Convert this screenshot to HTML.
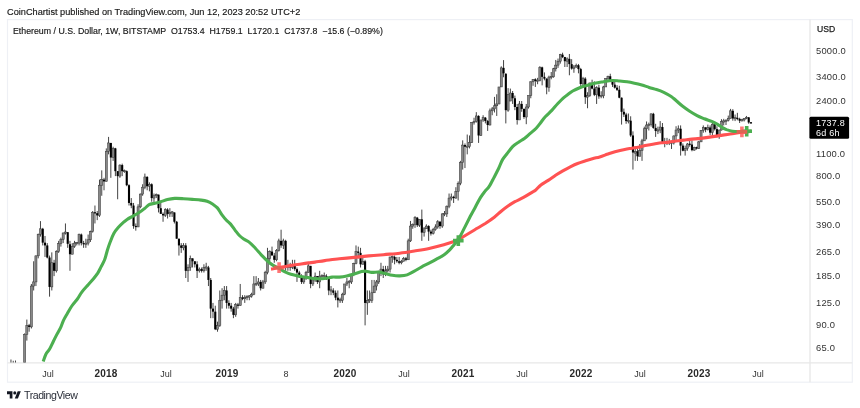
<!DOCTYPE html>
<html><head><meta charset="utf-8"><style>
html,body{margin:0;padding:0;background:#fff;width:860px;height:408px;overflow:hidden}
body{position:relative;font-family:"Liberation Sans",sans-serif;color:#2a2e39}
div{will-change:transform}
.hdr{position:absolute;left:7px;top:5.9px;font-size:9.2px;line-height:13px;color:#151515;white-space:nowrap;-webkit-text-stroke:0.15px #151515}
.tick{position:absolute;left:13px;top:24.8px;font-size:8.79px;line-height:13px;color:#151515;white-space:nowrap;-webkit-text-stroke:0.15px #151515}
.pl{position:absolute;left:815.5px;font-size:9.4px;letter-spacing:0.2px;line-height:13px;color:#333;white-space:nowrap}
.tl{position:absolute;top:368.2px;width:60px;text-align:center;font-size:9px;line-height:13px;color:#333}
.tl.b{font-weight:bold;color:#2a2a2a;letter-spacing:0.15px;font-size:10px;margin-top:-1.2px}
.usd{position:absolute;left:816.6px;top:23.3px;font-size:8.6px;line-height:13px;color:#222;-webkit-text-stroke:0.25px #222}
.lbl{position:absolute;left:816px;font-size:9px;letter-spacing:0.25px;line-height:11px;color:#fff;white-space:nowrap}
.tvt{position:absolute;left:23.8px;top:388.2px;font-size:10.6px;letter-spacing:-0.45px;line-height:14px;color:#2a2e39;white-space:nowrap}
</style></head><body>
<svg width="860" height="408" viewBox="0 0 860 408" style="position:absolute;left:0;top:0">
<defs><clipPath id="pane"><rect x="8" y="20" width="801" height="342.5"/></clipPath></defs>
<rect x="7.5" y="19.6" width="844.8" height="362.6" fill="none" stroke="#eef0f5" stroke-width="1.2"/>
<path d="M810 19.6V382.2M7.5 362.9H852.3" fill="none" stroke="#e8e8e8" stroke-width="1.4"/>
<g clip-path="url(#pane)">
<path d="M10.96 359.51V407.62M13.23 360.78V384.27M15.50 360.52V371.22M17.77 365.53V377.44M20.04 365.53V377.44M22.31 365.53V371.22M24.58 333.41V368.31M26.85 319.55V340.61M29.12 323.87V331.73M31.39 283.96V328.47M33.66 261.27V290.47M35.93 255.57V286.06M38.20 233.56V258.36M40.47 221.11V236.60M42.74 227.87V245.43M45.01 235.98V256.95M47.28 243.11V258.36M49.55 255.57V296.66M51.82 252.37V290.47M54.09 259.80V276.14M56.36 250.31V272.54M58.63 240.87V252.89M60.90 237.64V246.62M63.17 232.58V243.11M65.44 223.46V234.56M67.71 232.19V247.83M69.98 240.87V270.81M72.25 243.11V254.22M74.52 240.87V247.83M76.79 241.98V245.43M79.06 233.56V245.43M81.33 233.56V245.43M83.60 240.87V247.83M85.87 238.70V247.83M88.14 234.56V245.43M90.41 230.66V241.98M92.68 211.00V232.58M94.95 205.53V223.46M97.22 211.00V220.12M99.49 179.61V216.95M101.76 170.37V195.76M104.03 177.83V190.29M106.30 148.40V181.43M108.57 136.90V154.35M110.84 142.93V177.83M113.11 146.71V160.86M115.38 147.83V176.10M117.65 171.16V199.26M119.92 164.36V177.83M122.19 163.65V176.10M124.46 169.59V172.77M126.73 170.37V186.21M129.00 184.26V205.53M131.27 198.07V208.21M133.54 202.95V228.78M135.81 223.46V230.66M138.08 204.23V226.96M140.35 193.52V208.21M142.62 184.26V195.76M144.89 173.59V189.24M147.16 176.10V190.29M149.43 182.36V191.35M151.70 183.30V201.70M153.97 193.52V202.95M156.24 193.52V198.07M158.51 194.63V212.44M160.78 202.95V211.00M163.05 212.44V221.77M165.32 208.21V216.95M167.59 208.21V218.52M169.86 208.21V216.95M172.13 211.00V216.95M174.40 212.44V223.46M176.67 220.94V238.70M178.94 238.70V255.57M181.21 243.11V252.89M183.48 243.11V250.31M185.75 243.11V278.01M188.02 264.30V281.92M190.29 255.57V270.81M192.56 258.36V267.48M194.83 261.27V267.48M197.10 261.27V278.01M199.37 267.48V272.54M201.64 267.48V272.54M203.91 264.30V272.54M206.18 262.77V270.81M208.45 265.87V286.06M210.72 278.01V318.17M212.99 302.92V318.17M215.26 305.71V330.08M217.53 321.67V331.73M219.80 290.47V326.90M222.07 288.23V308.62M224.34 286.06V300.24M226.61 286.06V308.62M228.88 300.24V308.62M231.15 302.92V311.66M233.42 306.86V318.17M235.69 302.92V316.82M237.96 302.92V308.62M240.23 283.96V305.71M242.50 295.18V300.24M244.77 295.18V302.92M247.04 295.18V300.24M249.31 295.18V300.24M251.58 292.78V297.67M253.85 276.14V295.18M256.12 276.14V286.06M258.39 278.01V286.06M260.66 279.94V290.47M262.93 279.94V288.23M265.20 270.81V283.96M267.47 247.83V274.32M269.74 250.31V261.27M272.01 246.62V254.22M274.28 252.89V262.77M276.55 249.06V261.27M278.82 238.70V251.59M281.09 229.71V247.83M283.36 238.70V249.06M285.63 239.78V270.81M287.90 259.80V270.81M290.17 262.77V270.81M292.44 259.80V269.13M294.71 259.80V270.81M296.98 267.48V281.92M299.25 270.81V278.01M301.52 274.32V283.96M303.79 276.14V283.96M306.06 270.81V279.94M308.33 262.77V272.54M310.60 265.87V288.23M312.87 278.01V286.06M315.14 272.54V281.92M317.41 276.14V283.96M319.68 270.81V288.23M321.95 274.32V279.94M324.22 272.54V278.01M326.49 274.32V279.94M328.76 278.01V295.18M331.03 286.06V295.18M333.30 288.23V295.18M335.57 290.47V300.24M337.84 290.47V307.44M340.11 297.67V302.92M342.38 292.78V302.92M344.65 283.96V295.18M346.92 278.01V286.06M349.19 279.94V288.23M351.46 274.32V283.96M353.73 262.77V276.14M356.00 245.43V264.30M358.27 246.62V258.36M360.54 247.83V267.48M362.81 255.57V264.30M365.08 259.80V325.37M367.35 290.47V314.84M369.62 290.47V302.92M371.89 279.94V302.92M374.16 279.94V292.78M376.43 279.94V290.47M378.70 270.81V283.96M380.97 262.77V276.14M383.24 265.87V278.01M385.51 265.87V276.14M387.78 265.87V272.54M390.05 256.95V272.54M392.32 255.57V262.77M394.59 255.57V264.30M396.86 256.95V262.77M399.13 256.95V264.30M401.40 259.80V264.30M403.67 256.95V261.27M405.94 256.95V261.27M408.21 238.70V259.80M410.48 220.94V241.98M412.75 223.46V228.78M415.02 216.17V227.87M417.29 216.95V226.96M419.56 219.32V226.96M421.83 209.59V240.87M424.10 226.96V236.60M426.37 224.32V228.78M428.64 225.19V240.87M430.91 229.71V235.57M433.18 227.87V234.56M435.45 224.32V230.66M437.72 220.12V228.78M439.99 220.94V228.78M442.26 213.17V227.87M444.53 211.00V216.17M446.80 205.53V216.95M449.07 193.52V208.21M451.34 193.52V200.47M453.61 195.76V202.95M455.88 187.21V198.66M458.15 181.43V200.47M460.42 160.86V185.22M462.69 140.35V169.59M464.96 143.46V168.06M467.23 134.54V154.35M469.50 135.47V148.40M471.77 122.23V142.93M474.04 117.73V124.60M476.31 112.15V122.62M478.58 115.23V142.93M480.85 126.23V135.94M483.12 115.23V121.85M485.39 117.01V123.41M487.66 119.94V130.92M489.93 108.56V125.41M492.20 106.99V115.23M494.47 96.90V112.48M496.74 94.27V115.94M499.01 88.12V104.25M501.28 66.32V86.95M503.55 60.10V77.25M505.82 73.34V123.41M508.09 88.12V111.81M510.36 88.59V101.04M512.63 91.00V103.95M514.90 95.58V110.17M517.17 103.95V124.60M519.44 101.04V118.83M521.71 101.04V111.81M523.98 108.56V118.83M526.25 103.95V124.20M528.52 95.58V108.56M530.79 81.39V98.26M533.06 79.29V85.80M535.33 78.26V86.95M537.60 77.85V84.22M539.87 66.15V81.39M542.14 66.66V85.35M544.41 72.40V80.33M546.68 78.26V94.27M548.95 75.66V91.74M551.22 72.03V79.29M553.49 67.87V77.65M555.76 59.94V71.47M558.03 58.56V67.87M560.30 53.83V63.63M562.57 52.70V58.10M564.84 56.89V67.00M567.11 57.34V67.00M569.38 53.97V75.27M571.65 59.17V69.65M573.92 64.96V72.78M576.19 63.63V67.87M578.46 63.96V73.34M580.73 67.87V87.41M583.00 76.85V87.41M585.27 77.25V103.95M587.54 92.24V108.24M589.81 82.90V96.90M592.08 79.70V89.30M594.35 81.39V96.10M596.62 86.26V103.95M598.89 84.67V98.80M601.16 91.25V98.26M603.43 85.80V98.26M605.70 78.46V86.95M607.97 75.66V80.54M610.24 73.72V82.03M612.51 80.12V86.95M614.78 81.60V88.59M617.05 85.12V91.00M619.32 85.80V98.26M621.59 97.44V124.60M623.86 108.56V117.01M626.13 112.82V123.81M628.40 113.50V123.41M630.67 116.29V136.90M632.94 131.36V169.59M635.21 146.16V160.86M637.48 148.40V160.86M639.75 143.99V156.23M642.02 138.85V160.86M644.29 126.64V140.86M646.56 121.46V139.35M648.83 122.62V130.48M651.10 113.50V126.64M653.37 112.82V128.75M655.64 123.81V136.90M657.91 126.64V134.07M660.18 121.08V133.16M662.45 123.02V142.93M664.72 137.87V147.27M666.99 137.87V145.07M669.26 138.85V145.07M671.53 140.86V148.97M673.80 135.47V144.53M676.07 126.23V140.86M678.34 125.41V133.16M680.61 125.41V155.60M682.88 143.46V151.31M685.15 145.61V155.60M687.42 142.93V150.72M689.69 140.35V146.71M691.96 140.35V151.31M694.23 146.71V150.72M696.50 146.71V149.55M698.77 140.86V148.97M701.04 130.04V141.89M703.31 125.41V132.70M705.58 127.06V132.25M707.85 124.60V130.48M710.12 125.41V135.00M712.39 123.02V135.00M714.66 123.81V130.48M716.93 126.23V137.38M719.20 129.61V138.85M721.47 119.20V130.48M723.74 118.83V125.41M726.01 119.20V125.01M728.28 115.58V121.46M730.55 108.88V118.46M732.82 109.20V120.70M735.09 114.53V121.08M737.36 112.82V120.32M739.63 117.73V123.02M741.90 118.83V121.46M744.17 118.09V121.46M746.44 115.94V119.20M748.71 117.01V123.81M750.98 122.27V123.80" stroke="#444" stroke-width="1" fill="none"/>
<g fill="#888" stroke="#333" stroke-width="0.5"><rect x="9.91" y="375.83" width="2.10" height="29.31"/><rect x="12.18" y="364.17" width="2.10" height="11.66"/><rect x="18.99" y="368.31" width="2.10" height="5.94"/><rect x="21.26" y="366.91" width="2.10" height="1.41"/><rect x="23.53" y="334.27" width="2.10" height="32.63"/><rect x="25.80" y="325.37" width="2.10" height="8.91"/><rect x="30.34" y="286.06" width="2.10" height="40.84"/><rect x="32.61" y="281.92" width="2.10" height="4.14"/><rect x="34.88" y="255.84" width="2.10" height="26.07"/><rect x="37.15" y="234.36" width="2.10" height="21.48"/><rect x="39.42" y="228.78" width="2.10" height="5.58"/><rect x="50.77" y="262.77" width="2.10" height="24.15"/><rect x="55.31" y="251.59" width="2.10" height="19.23"/><rect x="57.58" y="243.57" width="2.10" height="8.02"/><rect x="59.85" y="239.56" width="2.10" height="4.01"/><rect x="62.12" y="232.97" width="2.10" height="6.59"/><rect x="64.39" y="231.98" width="2.10" height="1.20"/><rect x="71.20" y="246.62" width="2.10" height="7.60"/><rect x="73.47" y="243.11" width="2.10" height="3.50"/><rect x="75.74" y="242.51" width="2.10" height="1.20"/><rect x="78.01" y="234.56" width="2.10" height="8.55"/><rect x="84.82" y="243.09" width="2.10" height="1.20"/><rect x="87.09" y="239.78" width="2.10" height="3.33"/><rect x="89.36" y="231.61" width="2.10" height="8.17"/><rect x="91.63" y="212.44" width="2.10" height="19.17"/><rect x="98.44" y="185.22" width="2.10" height="30.19"/><rect x="100.71" y="179.61" width="2.10" height="5.62"/><rect x="105.25" y="151.31" width="2.10" height="30.12"/><rect x="107.52" y="142.93" width="2.10" height="8.38"/><rect x="112.06" y="148.40" width="2.10" height="9.12"/><rect x="118.87" y="165.08" width="2.10" height="11.02"/><rect x="123.41" y="170.56" width="2.10" height="1.20"/><rect x="137.03" y="206.86" width="2.10" height="20.10"/><rect x="139.30" y="194.07" width="2.10" height="12.79"/><rect x="141.57" y="187.21" width="2.10" height="6.86"/><rect x="143.84" y="176.96" width="2.10" height="10.24"/><rect x="148.38" y="184.26" width="2.10" height="1.95"/><rect x="152.92" y="195.76" width="2.10" height="2.32"/><rect x="155.19" y="194.59" width="2.10" height="1.20"/><rect x="164.27" y="209.59" width="2.10" height="5.82"/><rect x="168.81" y="212.44" width="2.10" height="1.47"/><rect x="171.08" y="211.84" width="2.10" height="1.20"/><rect x="182.43" y="245.43" width="2.10" height="2.40"/><rect x="186.97" y="267.48" width="2.10" height="3.33"/><rect x="189.24" y="258.36" width="2.10" height="9.12"/><rect x="198.32" y="269.13" width="2.10" height="1.69"/><rect x="202.86" y="267.48" width="2.10" height="3.33"/><rect x="205.13" y="266.88" width="2.10" height="1.20"/><rect x="216.48" y="325.37" width="2.10" height="3.91"/><rect x="218.75" y="300.24" width="2.10" height="25.12"/><rect x="221.02" y="295.18" width="2.10" height="5.06"/><rect x="223.29" y="290.47" width="2.10" height="4.71"/><rect x="234.64" y="304.58" width="2.10" height="10.25"/><rect x="239.18" y="297.67" width="2.10" height="8.05"/><rect x="243.72" y="297.58" width="2.10" height="1.20"/><rect x="245.99" y="296.56" width="2.10" height="1.20"/><rect x="248.26" y="295.81" width="2.10" height="1.20"/><rect x="250.53" y="294.21" width="2.10" height="1.95"/><rect x="252.80" y="283.96" width="2.10" height="10.26"/><rect x="255.07" y="283.36" width="2.10" height="1.20"/><rect x="257.34" y="281.92" width="2.10" height="2.04"/><rect x="261.88" y="281.92" width="2.10" height="6.31"/><rect x="264.15" y="272.54" width="2.10" height="9.37"/><rect x="266.42" y="258.36" width="2.10" height="14.19"/><rect x="268.69" y="251.59" width="2.10" height="6.77"/><rect x="275.50" y="250.31" width="2.10" height="9.49"/><rect x="277.77" y="240.87" width="2.10" height="9.44"/><rect x="282.31" y="240.87" width="2.10" height="4.56"/><rect x="286.85" y="265.87" width="2.10" height="1.61"/><rect x="291.39" y="264.30" width="2.10" height="3.18"/><rect x="302.74" y="278.01" width="2.10" height="3.91"/><rect x="305.01" y="272.54" width="2.10" height="5.47"/><rect x="307.28" y="265.87" width="2.10" height="6.67"/><rect x="311.82" y="279.94" width="2.10" height="4.02"/><rect x="314.09" y="276.14" width="2.10" height="3.80"/><rect x="318.63" y="276.14" width="2.10" height="5.78"/><rect x="320.90" y="275.54" width="2.10" height="1.20"/><rect x="323.17" y="275.54" width="2.10" height="1.20"/><rect x="329.98" y="289.87" width="2.10" height="1.20"/><rect x="339.06" y="299.64" width="2.10" height="1.20"/><rect x="341.33" y="294.21" width="2.10" height="6.03"/><rect x="343.60" y="283.96" width="2.10" height="10.26"/><rect x="345.87" y="281.92" width="2.10" height="2.04"/><rect x="348.14" y="281.32" width="2.10" height="1.20"/><rect x="350.41" y="274.32" width="2.10" height="7.60"/><rect x="352.68" y="263.38" width="2.10" height="10.94"/><rect x="354.95" y="251.59" width="2.10" height="11.79"/><rect x="361.76" y="261.27" width="2.10" height="3.04"/><rect x="366.30" y="300.24" width="2.10" height="2.68"/><rect x="368.57" y="299.64" width="2.10" height="1.20"/><rect x="370.84" y="292.78" width="2.10" height="7.46"/><rect x="373.11" y="286.06" width="2.10" height="6.73"/><rect x="375.38" y="281.92" width="2.10" height="4.14"/><rect x="377.65" y="272.54" width="2.10" height="9.37"/><rect x="379.92" y="269.13" width="2.10" height="3.42"/><rect x="384.46" y="270.81" width="2.10" height="3.50"/><rect x="386.73" y="269.13" width="2.10" height="1.69"/><rect x="389.00" y="256.95" width="2.10" height="12.18"/><rect x="391.27" y="256.35" width="2.10" height="1.20"/><rect x="400.35" y="261.27" width="2.10" height="1.50"/><rect x="402.62" y="258.36" width="2.10" height="2.91"/><rect x="407.16" y="240.87" width="2.10" height="18.92"/><rect x="409.43" y="226.07" width="2.10" height="14.80"/><rect x="411.70" y="224.32" width="2.10" height="1.75"/><rect x="413.97" y="217.73" width="2.10" height="6.59"/><rect x="418.51" y="219.32" width="2.10" height="5.87"/><rect x="423.05" y="228.78" width="2.10" height="3.80"/><rect x="425.32" y="226.07" width="2.10" height="2.72"/><rect x="432.13" y="229.71" width="2.10" height="3.85"/><rect x="434.40" y="226.96" width="2.10" height="2.75"/><rect x="436.67" y="221.77" width="2.10" height="5.19"/><rect x="441.21" y="213.91" width="2.10" height="12.16"/><rect x="443.48" y="213.31" width="2.10" height="1.20"/><rect x="445.75" y="206.19" width="2.10" height="7.72"/><rect x="448.02" y="198.07" width="2.10" height="8.12"/><rect x="450.29" y="196.89" width="2.10" height="1.20"/><rect x="454.83" y="191.35" width="2.10" height="6.73"/><rect x="457.10" y="183.30" width="2.10" height="8.05"/><rect x="459.37" y="162.59" width="2.10" height="20.71"/><rect x="461.64" y="145.07" width="2.10" height="17.52"/><rect x="466.18" y="146.11" width="2.10" height="1.20"/><rect x="468.45" y="142.41" width="2.10" height="4.31"/><rect x="470.72" y="122.62" width="2.10" height="19.78"/><rect x="472.99" y="121.44" width="2.10" height="1.20"/><rect x="475.26" y="115.94" width="2.10" height="5.53"/><rect x="479.80" y="119.94" width="2.10" height="15.53"/><rect x="482.07" y="117.73" width="2.10" height="2.22"/><rect x="488.88" y="110.82" width="2.10" height="14.19"/><rect x="491.15" y="108.88" width="2.10" height="1.94"/><rect x="493.42" y="105.76" width="2.10" height="3.12"/><rect x="495.69" y="103.95" width="2.10" height="1.81"/><rect x="497.96" y="86.95" width="2.10" height="17.00"/><rect x="500.23" y="67.87" width="2.10" height="19.07"/><rect x="507.04" y="94.27" width="2.10" height="15.89"/><rect x="509.31" y="93.00" width="2.10" height="8.05"/><rect x="518.39" y="103.95" width="2.10" height="15.99"/><rect x="525.20" y="106.99" width="2.10" height="10.02"/><rect x="527.47" y="95.58" width="2.10" height="11.41"/><rect x="529.74" y="81.82" width="2.10" height="13.76"/><rect x="532.01" y="79.29" width="2.10" height="2.53"/><rect x="536.55" y="80.15" width="2.10" height="1.20"/><rect x="538.82" y="67.35" width="2.10" height="13.19"/><rect x="547.90" y="77.05" width="2.10" height="10.36"/><rect x="550.17" y="76.35" width="2.10" height="1.20"/><rect x="552.44" y="68.76" width="2.10" height="8.09"/><rect x="554.71" y="65.13" width="2.10" height="3.63"/><rect x="556.98" y="61.20" width="2.10" height="3.92"/><rect x="559.25" y="54.69" width="2.10" height="6.51"/><rect x="566.06" y="58.86" width="2.10" height="2.34"/><rect x="572.87" y="67.00" width="2.10" height="1.57"/><rect x="575.14" y="65.30" width="2.10" height="1.71"/><rect x="581.95" y="78.67" width="2.10" height="5.33"/><rect x="586.49" y="95.58" width="2.10" height="1.60"/><rect x="588.76" y="82.90" width="2.10" height="12.67"/><rect x="595.57" y="87.65" width="2.10" height="7.15"/><rect x="600.11" y="95.50" width="2.10" height="1.20"/><rect x="602.38" y="86.95" width="2.10" height="8.89"/><rect x="604.65" y="78.46" width="2.10" height="8.48"/><rect x="606.92" y="76.25" width="2.10" height="2.21"/><rect x="627.35" y="120.29" width="2.10" height="1.20"/><rect x="634.16" y="151.31" width="2.10" height="1.81"/><rect x="638.70" y="150.72" width="2.10" height="5.52"/><rect x="640.97" y="140.86" width="2.10" height="9.86"/><rect x="643.24" y="128.75" width="2.10" height="12.12"/><rect x="645.51" y="125.01" width="2.10" height="3.74"/><rect x="647.78" y="124.21" width="2.10" height="1.20"/><rect x="650.05" y="113.84" width="2.10" height="10.76"/><rect x="656.86" y="129.88" width="2.10" height="1.20"/><rect x="659.13" y="127.06" width="2.10" height="2.98"/><rect x="665.94" y="141.55" width="2.10" height="1.20"/><rect x="670.48" y="142.33" width="2.10" height="1.20"/><rect x="672.75" y="135.94" width="2.10" height="6.99"/><rect x="675.02" y="130.04" width="2.10" height="5.91"/><rect x="677.29" y="128.75" width="2.10" height="1.29"/><rect x="684.10" y="148.40" width="2.10" height="2.32"/><rect x="686.37" y="143.99" width="2.10" height="4.41"/><rect x="693.18" y="147.27" width="2.10" height="2.86"/><rect x="697.72" y="141.89" width="2.10" height="6.51"/><rect x="699.99" y="130.48" width="2.10" height="11.41"/><rect x="702.26" y="127.48" width="2.10" height="3.00"/><rect x="706.80" y="127.48" width="2.10" height="2.13"/><rect x="711.34" y="124.20" width="2.10" height="8.50"/><rect x="718.15" y="130.04" width="2.10" height="6.38"/><rect x="720.42" y="121.46" width="2.10" height="8.58"/><rect x="722.69" y="120.86" width="2.10" height="1.20"/><rect x="724.96" y="120.29" width="2.10" height="1.20"/><rect x="727.23" y="118.46" width="2.10" height="1.86"/><rect x="729.50" y="110.82" width="2.10" height="7.64"/><rect x="734.04" y="117.68" width="2.10" height="1.20"/><rect x="740.85" y="119.72" width="2.10" height="1.20"/><rect x="743.12" y="118.46" width="2.10" height="1.49"/><rect x="745.39" y="117.31" width="2.10" height="1.20"/></g>
<g fill="#000"><rect x="14.45" y="364.17" width="2.10" height="2.73"/><rect x="16.72" y="366.91" width="2.10" height="7.35"/><rect x="28.07" y="325.37" width="2.10" height="1.54"/><rect x="41.69" y="228.78" width="2.10" height="13.87"/><rect x="43.96" y="242.66" width="2.10" height="2.77"/><rect x="46.23" y="245.43" width="2.10" height="12.08"/><rect x="48.50" y="257.51" width="2.10" height="29.41"/><rect x="53.04" y="262.77" width="2.10" height="8.05"/><rect x="66.66" y="232.19" width="2.10" height="11.61"/><rect x="68.93" y="244.26" width="2.10" height="9.96"/><rect x="80.28" y="234.56" width="2.10" height="8.55"/><rect x="82.55" y="243.09" width="2.10" height="1.20"/><rect x="93.90" y="212.21" width="2.10" height="1.20"/><rect x="96.17" y="213.17" width="2.10" height="2.24"/><rect x="102.98" y="179.61" width="2.10" height="1.82"/><rect x="109.79" y="142.93" width="2.10" height="14.59"/><rect x="114.33" y="148.40" width="2.10" height="22.76"/><rect x="116.60" y="171.16" width="2.10" height="4.94"/><rect x="121.14" y="165.08" width="2.10" height="6.08"/><rect x="125.68" y="171.16" width="2.10" height="14.06"/><rect x="127.95" y="185.22" width="2.10" height="17.73"/><rect x="130.22" y="202.95" width="2.10" height="2.58"/><rect x="132.49" y="205.53" width="2.10" height="20.54"/><rect x="134.76" y="225.92" width="2.10" height="1.20"/><rect x="146.11" y="176.96" width="2.10" height="9.25"/><rect x="150.65" y="184.26" width="2.10" height="13.82"/><rect x="157.46" y="194.63" width="2.10" height="13.59"/><rect x="159.73" y="208.21" width="2.10" height="5.70"/><rect x="162.00" y="213.91" width="2.10" height="1.50"/><rect x="166.54" y="209.59" width="2.10" height="4.32"/><rect x="173.35" y="212.44" width="2.10" height="9.33"/><rect x="175.62" y="221.77" width="2.10" height="16.93"/><rect x="177.89" y="238.70" width="2.10" height="6.73"/><rect x="180.16" y="245.43" width="2.10" height="2.40"/><rect x="184.70" y="245.43" width="2.10" height="25.39"/><rect x="191.51" y="258.36" width="2.10" height="2.91"/><rect x="193.78" y="261.27" width="2.10" height="3.04"/><rect x="196.05" y="264.30" width="2.10" height="6.51"/><rect x="200.59" y="269.13" width="2.10" height="1.69"/><rect x="207.40" y="267.48" width="2.10" height="12.46"/><rect x="209.67" y="279.94" width="2.10" height="28.68"/><rect x="211.94" y="308.62" width="2.10" height="3.04"/><rect x="214.21" y="311.66" width="2.10" height="17.61"/><rect x="225.56" y="290.47" width="2.10" height="12.46"/><rect x="227.83" y="302.92" width="2.10" height="2.79"/><rect x="230.10" y="305.71" width="2.10" height="2.91"/><rect x="232.37" y="308.62" width="2.10" height="6.22"/><rect x="236.91" y="304.55" width="2.10" height="1.20"/><rect x="241.45" y="297.58" width="2.10" height="1.20"/><rect x="259.61" y="281.92" width="2.10" height="6.31"/><rect x="270.96" y="251.59" width="2.10" height="3.98"/><rect x="273.23" y="255.57" width="2.10" height="4.23"/><rect x="280.04" y="240.87" width="2.10" height="4.56"/><rect x="284.58" y="240.87" width="2.10" height="26.61"/><rect x="289.12" y="265.87" width="2.10" height="1.61"/><rect x="293.66" y="264.30" width="2.10" height="4.82"/><rect x="295.93" y="269.13" width="2.10" height="3.42"/><rect x="298.20" y="272.54" width="2.10" height="3.60"/><rect x="300.47" y="276.14" width="2.10" height="5.78"/><rect x="309.55" y="265.87" width="2.10" height="18.08"/><rect x="316.36" y="276.14" width="2.10" height="5.78"/><rect x="325.44" y="276.14" width="2.10" height="1.87"/><rect x="327.71" y="278.01" width="2.10" height="12.46"/><rect x="332.25" y="290.47" width="2.10" height="2.32"/><rect x="334.52" y="292.78" width="2.10" height="4.88"/><rect x="336.79" y="297.67" width="2.10" height="2.58"/><rect x="357.22" y="251.59" width="2.10" height="1.30"/><rect x="359.49" y="252.89" width="2.10" height="11.41"/><rect x="364.03" y="261.27" width="2.10" height="41.66"/><rect x="382.19" y="269.13" width="2.10" height="5.19"/><rect x="393.54" y="256.95" width="2.10" height="2.85"/><rect x="395.81" y="259.80" width="2.10" height="1.47"/><rect x="398.08" y="261.27" width="2.10" height="1.50"/><rect x="404.89" y="258.36" width="2.10" height="1.44"/><rect x="416.24" y="217.73" width="2.10" height="7.46"/><rect x="420.78" y="219.32" width="2.10" height="13.26"/><rect x="427.59" y="226.07" width="2.10" height="5.54"/><rect x="429.86" y="231.61" width="2.10" height="1.95"/><rect x="438.94" y="221.77" width="2.10" height="4.30"/><rect x="452.56" y="196.89" width="2.10" height="1.20"/><rect x="463.91" y="145.07" width="2.10" height="1.65"/><rect x="477.53" y="115.94" width="2.10" height="19.54"/><rect x="484.34" y="117.73" width="2.10" height="3.35"/><rect x="486.61" y="121.08" width="2.10" height="3.93"/><rect x="502.50" y="67.87" width="2.10" height="5.47"/><rect x="504.77" y="73.72" width="2.10" height="36.44"/><rect x="511.58" y="93.00" width="2.10" height="5.26"/><rect x="513.85" y="98.26" width="2.10" height="8.73"/><rect x="516.12" y="106.99" width="2.10" height="12.95"/><rect x="520.66" y="103.95" width="2.10" height="4.93"/><rect x="522.93" y="108.88" width="2.10" height="8.13"/><rect x="534.28" y="79.29" width="2.10" height="1.68"/><rect x="541.09" y="67.35" width="2.10" height="9.50"/><rect x="543.36" y="76.85" width="2.10" height="1.82"/><rect x="545.63" y="78.67" width="2.10" height="8.74"/><rect x="561.52" y="54.69" width="2.10" height="2.35"/><rect x="563.79" y="57.04" width="2.10" height="4.16"/><rect x="568.33" y="58.86" width="2.10" height="5.26"/><rect x="570.60" y="64.13" width="2.10" height="4.45"/><rect x="577.41" y="65.30" width="2.10" height="3.82"/><rect x="579.68" y="69.11" width="2.10" height="14.89"/><rect x="584.22" y="78.67" width="2.10" height="18.50"/><rect x="591.03" y="82.90" width="2.10" height="5.69"/><rect x="593.30" y="88.59" width="2.10" height="6.20"/><rect x="597.84" y="87.65" width="2.10" height="8.72"/><rect x="609.19" y="76.25" width="2.10" height="3.87"/><rect x="611.46" y="80.12" width="2.10" height="4.55"/><rect x="613.73" y="84.67" width="2.10" height="2.98"/><rect x="616.00" y="87.65" width="2.10" height="2.14"/><rect x="618.27" y="89.79" width="2.10" height="7.93"/><rect x="620.54" y="97.71" width="2.10" height="14.10"/><rect x="622.81" y="111.81" width="2.10" height="2.72"/><rect x="625.08" y="114.53" width="2.10" height="6.55"/><rect x="629.62" y="120.70" width="2.10" height="14.77"/><rect x="631.89" y="135.47" width="2.10" height="17.04"/><rect x="636.43" y="151.31" width="2.10" height="4.93"/><rect x="652.32" y="113.84" width="2.10" height="14.05"/><rect x="654.59" y="127.90" width="2.10" height="3.02"/><rect x="661.40" y="127.06" width="2.10" height="14.83"/><rect x="663.67" y="141.55" width="2.10" height="1.20"/><rect x="668.21" y="141.81" width="2.10" height="1.20"/><rect x="679.56" y="128.75" width="2.10" height="16.87"/><rect x="681.83" y="145.61" width="2.10" height="5.11"/><rect x="688.64" y="143.66" width="2.10" height="1.20"/><rect x="690.91" y="144.53" width="2.10" height="5.60"/><rect x="695.45" y="147.24" width="2.10" height="1.20"/><rect x="704.53" y="127.48" width="2.10" height="2.13"/><rect x="709.07" y="127.48" width="2.10" height="5.22"/><rect x="713.61" y="124.20" width="2.10" height="4.97"/><rect x="715.88" y="129.17" width="2.10" height="7.25"/><rect x="731.77" y="110.82" width="2.10" height="7.64"/><rect x="736.31" y="117.86" width="2.10" height="1.20"/><rect x="738.58" y="118.83" width="2.10" height="1.87"/><rect x="747.66" y="117.37" width="2.10" height="5.13"/><rect x="749.93" y="122.20" width="2.10" height="1.20"/></g>
<path d="M271.0 269.1 C272.4 268.9 276.5 268.1 279.1 267.6 C281.7 267.1 284.1 266.6 286.5 266.2 C288.9 265.8 291.4 265.4 293.8 265.0 C296.2 264.6 298.8 264.4 301.2 264.0 C303.6 263.6 306.2 263.2 308.5 262.9 C310.8 262.6 312.3 262.5 315.0 262.1 C317.7 261.7 320.6 261.2 324.7 260.6 C328.8 260.1 334.5 259.3 339.4 258.8 C344.3 258.3 349.2 257.9 354.1 257.4 C359.0 256.9 363.9 256.4 368.8 255.9 C373.7 255.5 378.4 255.1 383.5 254.7 C388.6 254.2 394.6 253.8 399.7 253.2 C404.8 252.6 409.5 251.8 414.4 251.0 C419.3 250.2 424.2 249.5 429.1 248.4 C434.0 247.3 439.4 245.9 443.8 244.7 C448.2 243.5 452.9 242.0 455.6 241.0 C458.3 240.0 457.8 239.8 460.0 238.6 C462.2 237.3 465.7 235.2 468.6 233.5 C471.5 231.8 474.4 230.0 477.2 228.3 C480.0 226.6 482.8 225.0 485.7 223.2 C488.6 221.3 491.7 219.2 494.3 217.2 C496.9 215.2 498.9 213.1 501.2 211.2 C503.5 209.3 505.7 207.6 508.0 206.0 C510.3 204.4 512.3 203.1 514.9 201.7 C517.5 200.3 520.6 199.0 523.5 197.4 C526.4 195.8 530.0 193.5 532.0 192.3 C534.0 191.1 534.0 191.4 535.5 190.2 C537.0 189.0 538.8 186.5 540.9 184.9 C543.0 183.3 545.8 182.0 548.2 180.4 C550.7 178.8 553.2 176.9 555.6 175.3 C558.0 173.7 560.5 172.3 562.9 170.9 C565.3 169.5 567.8 168.0 570.3 166.8 C572.8 165.6 575.1 164.5 577.6 163.5 C580.1 162.5 582.5 161.8 585.0 161.0 C587.5 160.2 589.9 159.4 592.4 158.7 C594.9 158.0 597.2 157.6 599.7 156.9 C602.2 156.2 604.6 155.2 607.1 154.3 C609.6 153.5 612.1 152.6 615.0 151.8 C617.9 151.0 621.9 150.0 624.7 149.4 C627.6 148.8 629.7 148.6 632.1 148.2 C634.5 147.8 637.0 147.4 639.4 146.9 C641.8 146.4 644.3 145.8 646.8 145.3 C649.2 144.8 651.6 144.4 654.1 144.0 C656.6 143.6 659.0 143.1 661.5 142.8 C664.0 142.5 666.3 142.4 668.8 142.1 C671.2 141.8 673.8 141.3 676.2 141.0 C678.7 140.7 681.2 140.4 683.5 140.1 C685.8 139.8 686.2 139.8 689.7 139.4 C693.2 139.0 699.5 138.5 704.4 137.9 C709.3 137.3 714.2 136.3 719.1 135.6 C724.0 134.9 730.0 134.1 733.8 133.5 C737.6 132.9 738.9 132.7 741.9 132.3 C744.9 131.9 749.9 131.5 751.5 131.3" stroke="#ff5252" stroke-width="3.1" fill="none" stroke-linejoin="round"/>
<path d="M43.2 361.5 C43.7 360.3 44.8 356.3 45.9 354.2 C47.0 352.1 48.4 351.2 49.6 349.1 C50.8 347.0 52.0 344.1 53.2 341.7 C54.4 339.2 55.7 336.7 56.9 334.4 C58.1 332.1 59.5 330.0 60.6 327.7 C61.7 325.4 62.4 322.7 63.5 320.4 C64.6 318.1 65.8 316.2 67.2 313.8 C68.6 311.4 70.1 308.5 71.8 306.0 C73.5 303.5 75.7 301.3 77.4 299.0 C79.1 296.7 80.1 294.4 81.8 292.1 C83.5 289.8 85.6 287.6 87.6 285.4 C89.5 283.2 91.8 280.9 93.5 278.8 C95.2 276.7 96.7 274.8 97.9 272.9 C99.1 270.9 99.8 269.3 100.9 267.1 C102.0 264.9 103.5 262.5 104.6 259.7 C105.7 256.9 106.4 253.4 107.3 250.5 C108.2 247.6 108.9 245.3 110.0 242.5 C111.1 239.7 112.4 235.9 113.8 233.4 C115.2 230.9 116.7 229.2 118.2 227.5 C119.7 225.8 121.1 224.4 122.6 223.1 C124.1 221.8 125.4 220.6 127.1 219.4 C128.8 218.2 130.9 217.3 132.9 216.2 C134.9 215.1 136.8 214.1 138.8 212.8 C140.8 211.5 143.0 209.8 144.7 208.4 C146.4 207.1 147.4 205.6 149.1 204.7 C150.8 203.8 153.1 203.7 155.0 203.2 C156.9 202.7 158.4 202.4 160.5 201.8 C162.6 201.2 165.0 200.2 167.4 199.6 C169.8 199.0 172.0 198.6 174.7 198.4 C177.4 198.2 180.6 198.5 183.5 198.7 C186.4 198.9 189.5 199.2 192.4 199.4 C195.3 199.6 198.8 199.8 201.2 200.1 C203.6 200.4 205.1 200.6 207.1 201.3 C209.1 202.0 211.2 203.2 212.9 204.3 C214.6 205.4 215.9 206.2 217.4 207.9 C218.9 209.6 220.3 212.6 221.8 214.6 C223.3 216.6 224.7 218.4 226.2 220.0 C227.7 221.6 229.1 222.4 230.6 224.1 C232.1 225.8 233.5 228.2 235.0 230.1 C236.5 232.0 237.9 234.0 239.4 235.5 C240.9 237.0 242.1 237.8 243.8 239.0 C245.5 240.2 247.7 241.0 249.7 242.6 C251.7 244.2 253.6 246.4 255.6 248.5 C257.6 250.6 259.5 253.0 261.5 255.1 C263.5 257.2 265.4 259.3 267.4 261.0 C269.3 262.7 271.2 264.2 273.2 265.4 C275.1 266.6 277.1 267.3 279.1 268.4 C281.1 269.5 283.0 270.8 285.0 271.8 C287.0 272.8 288.9 273.7 290.9 274.3 C292.9 274.9 294.9 275.3 296.8 275.7 C298.8 276.1 300.7 276.5 302.6 276.8 C304.6 277.1 306.4 277.3 308.5 277.6 C310.6 277.9 312.3 278.5 315.0 278.6 C317.7 278.8 321.8 278.8 324.7 278.5 C327.6 278.2 329.7 277.3 332.1 277.1 C334.6 276.9 336.9 277.3 339.4 277.1 C341.8 276.9 344.4 276.5 346.8 276.0 C349.2 275.5 351.7 274.8 354.1 274.1 C356.6 273.4 359.5 272.1 361.5 271.6 C363.5 271.1 364.2 271.1 365.9 271.2 C367.6 271.3 369.6 272.2 371.8 272.4 C374.0 272.5 376.9 271.9 379.1 272.1 C381.3 272.3 382.8 272.9 385.0 273.4 C387.2 273.9 389.9 274.9 392.4 275.3 C394.8 275.7 397.2 276.0 399.7 275.9 C402.1 275.8 404.7 275.7 407.1 274.9 C409.6 274.1 411.9 272.5 414.4 271.2 C416.8 269.9 419.4 268.1 421.8 266.8 C424.2 265.5 426.7 264.4 429.1 263.1 C431.6 261.8 434.1 260.5 436.5 259.1 C438.9 257.8 441.6 256.5 443.8 255.0 C446.0 253.5 448.0 251.6 449.7 249.9 C451.4 248.2 452.6 246.5 454.1 244.7 C455.6 242.8 457.0 241.8 458.8 238.8 C460.6 235.8 463.2 230.3 465.1 226.6 C467.0 222.8 468.6 219.6 470.3 216.3 C472.0 213.0 473.7 210.1 475.4 206.9 C477.1 203.8 479.0 200.0 480.6 197.4 C482.2 194.8 483.5 193.2 484.9 191.4 C486.3 189.6 487.6 188.7 489.2 186.3 C490.8 183.9 492.7 179.9 494.3 176.9 C495.9 173.9 497.2 171.3 498.6 168.5 C500.0 165.7 501.0 162.3 502.4 159.9 C503.8 157.5 505.1 156.2 506.8 154.0 C508.5 151.8 510.7 148.6 512.6 146.6 C514.6 144.6 516.5 143.5 518.5 142.2 C520.5 140.8 522.4 140.0 524.4 138.5 C526.4 137.0 528.3 135.1 530.3 133.4 C532.3 131.7 534.5 130.0 536.2 128.2 C537.9 126.4 539.1 124.7 540.6 122.7 C542.1 120.8 543.6 118.5 545.5 116.5 C547.4 114.5 549.8 112.5 551.8 110.4 C553.8 108.3 555.6 105.9 557.6 103.8 C559.6 101.7 562.0 99.2 563.8 97.6 C565.6 96.0 566.7 95.3 568.2 94.2 C569.7 93.1 570.8 92.1 572.7 91.0 C574.6 89.9 577.5 88.6 579.7 87.7 C581.9 86.8 583.4 86.4 585.9 85.7 C588.4 85.0 591.8 84.0 594.7 83.3 C597.6 82.6 600.5 82.2 603.5 81.7 C606.5 81.2 609.7 80.6 612.4 80.5 C615.1 80.4 617.2 80.8 619.7 81.0 C622.2 81.2 624.7 81.4 627.1 81.8 C629.5 82.2 632.0 82.7 634.4 83.2 C636.8 83.7 639.3 84.3 641.8 85.0 C644.2 85.7 646.6 86.6 649.1 87.4 C651.6 88.2 654.0 88.8 656.5 89.6 C659.0 90.4 661.3 91.2 663.8 92.4 C666.2 93.6 669.2 95.2 671.2 96.5 C673.2 97.8 674.1 98.9 676.0 100.5 C677.9 102.1 680.1 104.2 682.4 106.0 C684.7 107.8 687.2 109.6 689.7 111.2 C692.2 112.8 694.7 114.3 697.1 115.6 C699.5 116.9 702.0 117.8 704.4 118.8 C706.8 119.8 709.6 120.5 711.8 121.4 C714.0 122.3 715.9 123.4 717.6 124.4 C719.3 125.4 720.6 126.4 722.1 127.3 C723.6 128.2 724.8 128.9 726.5 129.6 C728.2 130.2 730.4 130.9 732.4 131.2 C734.4 131.5 736.2 131.6 738.2 131.6 C740.2 131.6 741.9 131.5 744.1 131.4 C746.3 131.3 750.3 131.1 751.5 131.0" stroke="#4caf50" stroke-width="3.1" fill="none" stroke-linejoin="round"/>
<path d="M456.50 235.30h3.60v3.50h3.50v3.60h-3.50v3.50h-3.60v-3.50h-3.50v-3.60h3.50z" fill="#4caf50" fill-opacity="1.00"/>
<path d="M744.90 125.90h3.60v3.50h3.50v3.60h-3.50v3.50h-3.60v-3.50h-3.50v-3.60h3.50z" fill="#4caf50" fill-opacity="1.00"/>
<path d="M277.30 262.30h3.60v3.50h3.50v3.60h-3.50v3.50h-3.60v-3.50h-3.50v-3.60h3.50z" fill="#ff5252" fill-opacity="0.80"/>
<path d="M740.10 126.60h3.60v3.50h3.50v3.60h-3.50v3.50h-3.60v-3.50h-3.50v-3.60h3.50z" fill="#ff5252" fill-opacity="0.80"/>
</g>
<rect x="809.4" y="116.7" width="39.7" height="22.1" rx="1.5" fill="#000"/>
<g transform="translate(7,389.7) scale(0.389,0.405)" fill="#131722"><path d="M14 22H7V11H0V4h14v18zM28 22h-8l7.5-18h8L28 22z"/><circle cx="20" cy="8" r="4"/></g>
</svg>
<div class="hdr">CoinChartist published on TradingView.com, Jun 12, 2023 20:52 UTC+2</div>
<div class="tick">Ethereum / U.S. Dollar, 1W, BITSTAMP&nbsp; O1753.4&nbsp; H1759.1&nbsp; L1720.1&nbsp; C1737.8&nbsp; −15.6 (−0.89%)</div>
<div class="usd">USD</div>
<div class="pl" style="top:43.9px">5000.0</div><div class="pl" style="top:70.2px">3400.0</div><div class="pl" style="top:94.0px">2400.0</div><div class="pl" style="top:147.3px">1100.0</div><div class="pl" style="top:169.1px">800.0</div><div class="pl" style="top:194.7px">550.0</div><div class="pl" style="top:218.2px">390.0</div><div class="pl" style="top:244.6px">265.0</div><div class="pl" style="top:269.1px">185.0</div><div class="pl" style="top:295.9px">125.0</div><div class="pl" style="top:318.4px">90.0</div><div class="pl" style="top:340.6px">65.0</div><div class="tl" style="left:17.5px">Jul</div><div class="tl b" style="left:76.3px">2018</div><div class="tl" style="left:135.5px">Jul</div><div class="tl b" style="left:196.8px">2019</div><div class="tl" style="left:255.5px">8</div><div class="tl b" style="left:315.0px">2020</div><div class="tl" style="left:373.8px">Jul</div><div class="tl b" style="left:432.5px">2021</div><div class="tl" style="left:491.8px">Jul</div><div class="tl b" style="left:550.8px">2022</div><div class="tl" style="left:609.5px">Jul</div><div class="tl b" style="left:668.8px">2023</div><div class="tl" style="left:728.0px">Jul</div>
<div class="lbl" style="top:117.5px">1737.8</div>
<div class="lbl" style="top:128px">6d 6h</div>
<div class="tvt">TradingView</div>
</body></html>
